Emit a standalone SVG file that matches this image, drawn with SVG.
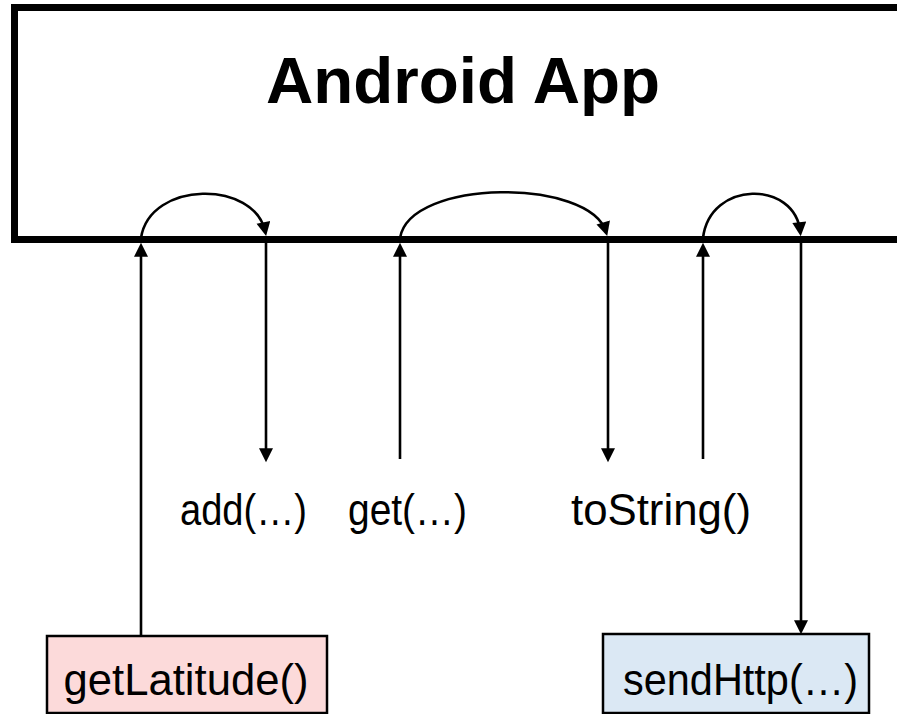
<svg xmlns="http://www.w3.org/2000/svg" width="897" height="714" viewBox="0 0 897 714">
  <style>
    .frame { fill: none; stroke: #000; stroke-width: 7; }
    .title { font-family: "Liberation Sans", Arial, sans-serif; font-weight: bold; font-size: 65px; fill: #000; }
    .label { font-family: "Liberation Sans", Arial, sans-serif; font-size: 44px; fill: #000; }
    .link { fill: none; stroke: #000; stroke-width: 2.6; }
    .box { stroke: #000; stroke-width: 2.5; }
    .pink { fill: #FCDADA; }
    .blue { fill: #DBE8F4; }
  </style>
  <defs>
    <marker id="head" markerUnits="userSpaceOnUse" viewBox="0 0 10 10" refX="7" refY="5" markerWidth="15" markerHeight="14" orient="auto">
      <path d="M0,0 L10,5 L0,10 z" fill="#000"/>
    </marker>
  </defs>

  <!-- application frame, open on the right -->
  <g id="android-app">
    <path class="frame" d="M905,7.5 H14.5 V239.5 H905"/>
    <text class="title" x="463" y="103" text-anchor="middle" textLength="394" lengthAdjust="spacingAndGlyphs">Android App</text>
  </g>

  <g id="get-latitude">
    <rect class="box pink" x="47" y="636" width="280" height="77"/>
    <text class="label" x="186" y="695" text-anchor="middle" textLength="245" lengthAdjust="spacingAndGlyphs">getLatitude()</text>
  </g>

  <g id="send-http">
    <rect class="box blue" x="603" y="634" width="266" height="79"/>
    <text class="label" x="740.5" y="695" text-anchor="middle" textLength="235" lengthAdjust="spacingAndGlyphs">sendHttp(…)</text>
  </g>

  <g id="label-add">
    <text class="label" x="243.5" y="525" text-anchor="middle" textLength="127" lengthAdjust="spacingAndGlyphs">add(…)</text>
  </g>
  <g id="label-get">
    <text class="label" x="407.5" y="525" text-anchor="middle" textLength="119" lengthAdjust="spacingAndGlyphs">get(…)</text>
  </g>
  <g id="label-tostring">
    <text class="label" x="661" y="525" text-anchor="middle" textLength="180" lengthAdjust="spacingAndGlyphs">toString()</text>
  </g>

  <g id="connectors">
    <!-- calls leaving and entering the app -->
    <line class="link" x1="141" y1="636" x2="141" y2="247" marker-end="url(#head)"/>
    <line class="link" x1="266" y1="241" x2="266" y2="458" marker-end="url(#head)"/>
    <line class="link" x1="400" y1="459" x2="400" y2="247" marker-end="url(#head)"/>
    <line class="link" x1="608" y1="241" x2="608" y2="458" marker-end="url(#head)"/>
    <line class="link" x1="703" y1="459" x2="703" y2="247" marker-end="url(#head)"/>
    <line class="link" x1="801" y1="241" x2="801" y2="630" marker-end="url(#head)"/>
    <!-- data flow inside the app -->
    <path class="link" d="M141,238 C150,180 255,180 265.3,232" marker-end="url(#head)"/>
    <path class="link" d="M400,238 C410,178 590,178 606,232" marker-end="url(#head)"/>
    <path class="link" d="M703,238 C710,180 795,180 800.3,232" marker-end="url(#head)"/>
  </g>
</svg>
